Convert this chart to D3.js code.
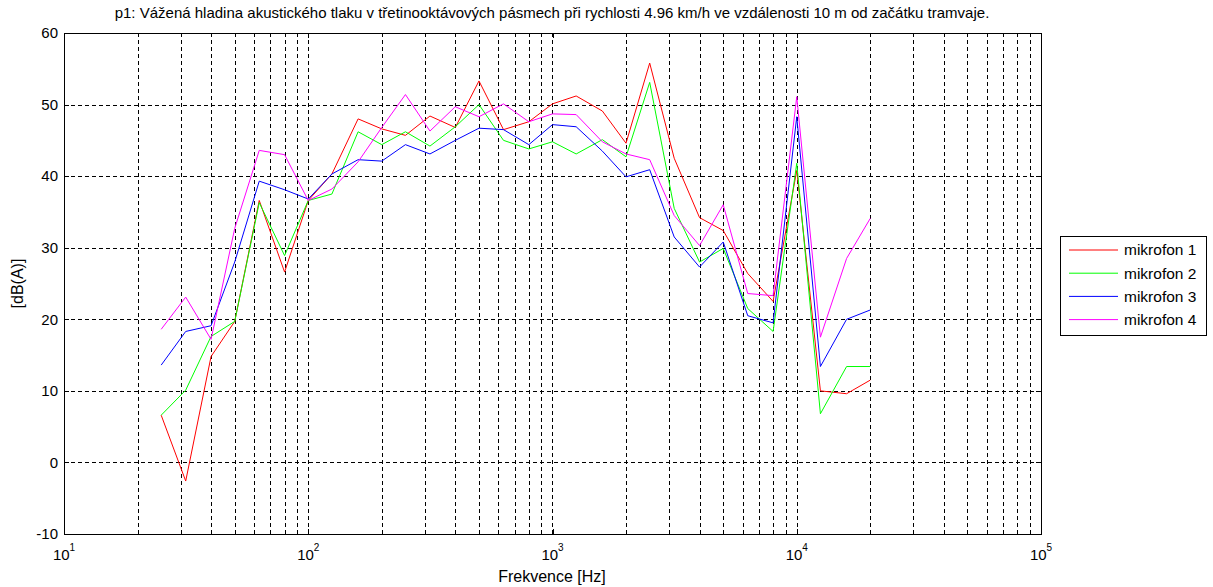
<!DOCTYPE html>
<html>
<head>
<meta charset="utf-8">
<script src="https://cdn.jsdelivr.net/npm/d3@7"></script>
<style>
  body { margin: 0; background: #fff; }
  svg { display: block; font-family: "Liberation Sans", Arial, sans-serif; }
</style>
</head>
<body>
<svg id="chart" width="1213" height="587"></svg>
<script>
// Third-octave band centre frequencies [Hz]
const frequencies = [25, 31.5, 40, 50, 63, 80, 100, 125, 160, 200, 250, 315, 400, 500, 630,
  800, 1000, 1250, 1600, 2000, 2500, 3150, 4000, 5000, 6300, 8000, 10000, 12500, 16000, 20000];

// A-weighted sound pressure level per microphone [dB(A)]
const mikrofon1 = [6.6, -2.6, 14.8, 19.7, 36.6, 26.6, 36.6, 40.3, 48.0, 46.6, 45.7, 48.4, 46.8, 53.3, 46.5,
  47.6, 50.1, 51.2, 49.1, 44.6, 55.8, 42.5, 34.2, 32.4, 26.4, 22.5, 40.8, 10.0, 9.6, 11.5];
const mikrofon2 = [6.6, 10.1, 17.6, 19.7, 36.3, 28.9, 36.6, 37.5, 46.2, 44.4, 46.2, 44.2, 46.9, 50.0, 45.0,
  43.8, 44.8, 43.1, 45.1, 42.7, 53.1, 35.5, 28.0, 29.9, 21.5, 18.3, 41.8, 6.8, 13.4, 13.4];
const mikrofon3 = [13.6, 18.3, 19.1, 28.0, 39.3, 38.1, 36.8, 40.3, 42.3, 42.1, 44.4, 43.1, 45.0, 46.7, 46.5,
  44.4, 47.2, 46.9, 43.5, 39.9, 40.9, 31.5, 27.3, 30.8, 20.5, 19.5, 48.3, 13.4, 20.0, 21.3];
const mikrofon4 = [18.6, 23.1, 17.2, 32.7, 43.6, 43.0, 36.6, 38.2, 42.0, 46.8, 51.4, 46.3, 49.7, 48.3, 50.1,
  47.6, 48.7, 48.6, 44.8, 43.1, 42.3, 34.5, 30.3, 36.0, 23.6, 23.3, 51.1, 17.5, 28.5, 34.1];

const seriesNames = ["mikrofon 1", "mikrofon 2", "mikrofon 3", "mikrofon 4"];
const seriesValues = [mikrofon1, mikrofon2, mikrofon3, mikrofon4];
const seriesColors = ["#ff0000", "#00ff00", "#0000ff", "#ff00ff"];

const xDomain = [10, 100000];
const yDomain = [-10, 60];
const yTicks = [-10, 0, 10, 20, 30, 40, 50, 60];
const xDecades = [1, 2, 3, 4, 5];

const titleText = "p1: Vážená hladina akustického tlaku v třetinooktávových pásmech při rychlosti 4.96 km/h ve vzdálenosti 10 m od začátku tramvaje.";
const xLabel = "Frekvence [Hz]";
const yLabel = "[dB(A)]";

const svg = d3.select("#chart");
const plot = { left: 64, right: 1041, top: 33, bottom: 534 };

const x = d3.scaleLog().domain(xDomain).range([plot.left, plot.right]);
const y = d3.scaleLinear().domain(yDomain).range([plot.bottom, plot.top]);

// Minor log positions: 2..9 within each decade
const minorTicks = [];
for (let d = 1; d < 5; d++) {
  for (let m = 2; m <= 9; m++) minorTicks.push(m * Math.pow(10, d));
}
const majorX = xDecades.map(e => Math.pow(10, e));

// Grid
const grid = svg.append("g").attr("stroke", "#000").attr("stroke-width", 1)
  .attr("stroke-dasharray", "4,3").attr("shape-rendering", "crispEdges");
minorTicks.concat(majorX.slice(1, -1)).forEach(v => {
  grid.append("line").attr("x1", Math.round(x(v)) + 0.5).attr("x2", Math.round(x(v)) + 0.5)
    .attr("y1", plot.top).attr("y2", plot.bottom);
});
yTicks.slice(1, -1).forEach(v => {
  grid.append("line").attr("x1", plot.left).attr("x2", plot.right)
    .attr("y1", Math.round(y(v)) + 0.5).attr("y2", Math.round(y(v)) + 0.5);
});

// Axis ticks (inward) via d3 axes
const bottomAxis = d3.axisBottom(x).tickValues(majorX).tickSize(-5).tickFormat("");
const bottomMinor = d3.axisBottom(x).tickValues(minorTicks).tickSize(-3).tickFormat("");
const topAxis = d3.axisTop(x).tickValues(majorX).tickSize(-5).tickFormat("");
const topMinor = d3.axisTop(x).tickValues(minorTicks).tickSize(-3).tickFormat("");
const leftAxis = d3.axisLeft(y).tickValues(yTicks).tickSize(-5).tickFormat("");
const rightAxis = d3.axisRight(y).tickValues(yTicks).tickSize(-5).tickFormat("");

[[bottomAxis, `translate(0,${plot.bottom})`], [bottomMinor, `translate(0,${plot.bottom})`],
 [topAxis, `translate(0,${plot.top})`], [topMinor, `translate(0,${plot.top})`],
 [leftAxis, `translate(${plot.left},0)`], [rightAxis, `translate(${plot.right},0)`]].forEach(([ax, t]) => {
  const g = svg.append("g").attr("transform", t).call(ax);
  g.select(".domain").remove();
  g.selectAll("line").attr("stroke", "#000").attr("shape-rendering", "crispEdges");
});

// Series lines
const line = d3.line().x((d, i) => x(frequencies[i])).y(d => y(d));
const lines = svg.append("g").attr("fill", "none").attr("stroke-width", 1);
seriesValues.forEach((vals, k) => {
  lines.append("path").datum(vals).attr("d", line).attr("stroke", seriesColors[k]);
});

// Axes box
svg.append("rect").attr("x", plot.left + 0.5).attr("y", plot.top + 0.5)
  .attr("width", plot.right - plot.left).attr("height", plot.bottom - plot.top)
  .attr("fill", "none").attr("stroke", "#000").attr("stroke-width", 1)
  .attr("shape-rendering", "crispEdges");

// Y tick labels
svg.append("g").selectAll("text").data(yTicks).join("text")
  .attr("x", plot.left - 6).attr("y", d => y(d)).attr("dy", "0.35em")
  .attr("text-anchor", "end").attr("font-size", 15).text(d => d);

// X tick labels: 10^n
const xl = svg.append("g");
majorX.forEach((v, i) => {
  const t = xl.append("text").attr("x", x(v)).attr("y", plot.bottom + 26)
    .attr("text-anchor", "middle").attr("font-size", 15);
  t.append("tspan").text("10");
  t.append("tspan").attr("dy", -9).attr("font-size", 10).text(xDecades[i]);
});

// Title and axis labels
svg.append("text").attr("x", 552).attr("y", 18).attr("text-anchor", "middle")
  .attr("font-size", 15).text(titleText);
svg.append("text").attr("x", 552).attr("y", 582).attr("text-anchor", "middle")
  .attr("font-size", 16).text(xLabel);
svg.append("text").attr("transform", `translate(23,${(plot.top + plot.bottom) / 2}) rotate(-90)`)
  .attr("text-anchor", "middle").attr("font-size", 16).text(yLabel);

// Legend
const lg = svg.append("g").attr("transform", "translate(1060,236)");
lg.append("rect").attr("x", 0.5).attr("y", 0.5).attr("width", 146).attr("height", 99)
  .attr("fill", "#fff").attr("stroke", "#000").attr("shape-rendering", "crispEdges");
seriesNames.forEach((n, k) => {
  const yy = 14 + k * 23.2;
  lg.append("line").attr("x1", 9).attr("x2", 58).attr("y1", yy).attr("y2", yy)
    .attr("stroke", seriesColors[k]);
  lg.append("text").attr("x", 64).attr("y", yy).attr("dy", "0.35em")
    .attr("font-size", 15.5).text(n);
});
</script>
</body>
</html>
